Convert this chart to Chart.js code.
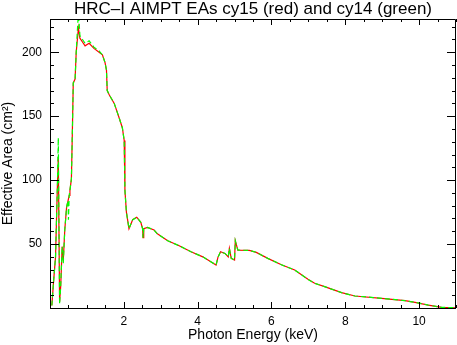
<!DOCTYPE html>
<html>
<head>
<meta charset="utf-8">
<script src="https://cdn.jsdelivr.net/npm/chart.js@4"></script>
<style>
  body { margin: 0; background: #fff; }
  canvas { display: block; }
</style>
</head>
<body>
<canvas id="eaChart" width="457" height="345"></canvas>
<script>
// Photon energy (keV) sample points
const energy = [0.05, 0.10, 0.15, 0.20, 0.225, 0.26, 0.29, 0.33, 0.36, 0.40, 0.45, 0.49, 0.50, 0.52, 0.54, 0.58,
    0.61, 0.63, 0.68, 0.71, 0.77, 0.81, 0.88, 0.95, 1.06, 1.19, 1.33, 1.42, 1.49, 1.53, 1.55, 1.60, 1.74,
    1.87, 1.96, 2.01, 2.03, 2.07, 2.14, 2.24, 2.35, 2.46, 2.51, 2.52, 2.54, 2.64, 2.82, 2.91, 3.19, 3.50,
    3.82, 4.14, 4.50, 4.55, 4.62, 4.74, 4.83, 4.86, 4.91, 5.00, 5.02, 5.09, 5.40, 5.59, 5.90, 6.27, 6.63,
    6.99, 7.17, 7.44, 7.90, 8.26, 8.98, 9.62, 9.89, 10.25, 10.61, 11.0];

// cy15 effective area (red), cm^2
const cy15 = [2, 22, 40, 95, 118, 5, 17, 48, 37, 61, 79, 84, 84, 88, 92, 101,
    144, 176, 179, 200, 219, 211, 208, 205, 207, 203, 200, 198, 192, 186, 170, 167, 160,
    149, 141, 131, 92, 75, 62, 69, 71, 67, 62, 55, 62, 63, 61, 58, 52.6, 48.7,
    44, 40, 33.6, 39.6, 44, 42.7, 40, 46.6, 38.8, 37.5, 52.6, 45.3, 45, 43.5, 38.8, 33.8, 29.7,
    22.4, 19.3, 16.7, 12, 9.4, 7.6, 5.7, 4.4, 2.3, 0.5, 0.2];

// cy14 effective area (green), cm^2
const cy14 = [2, 22, 40, 95, 133, 3, 17, 48, 35, 61, 79, 84, 69, 88, 92, 101,
    144, 176, 179, 200, 232, 213, 210, 207, 209, 204, 201, 198, 192, 186, 170, 167, 160,
    149, 141, 131, 92, 75, 62, 69, 71, 67, 62, 55, 62, 63, 61, 58, 52.6, 48.7,
    44, 40, 33.6, 39.6, 44, 42.7, 40, 46.6, 38.8, 37.5, 52.6, 45.3, 45, 43.5, 38.8, 33.8, 29.7,
    22.4, 19.3, 16.7, 12, 9.4, 7.6, 5.7, 4.4, 2.3, 0.5, 0.2];

// Axis ranges and tick spacing
const xRange = [0, 11];
const yRange = [0, 226];
const xMajor = 2, xMinor = 0.5;
const yMajor = 50, yMinor = 10;

const TITLE = 'HRC\u2013I AIMPT EAs cy15 (red) and cy14 (green)';
const FONT = "'Liberation Sans', Helvetica, Arial, sans-serif";

// Box frame with inward IDL-style tick marks on all four sides, plus title over the plot box
const frameTicks = {
    id: 'frameTicks',
    afterDraw(chart) {
        const ctx = chart.ctx;
        const a = chart.chartArea;
        const xs = chart.scales.x, ys = chart.scales.y;
        ctx.save();
        ctx.strokeStyle = '#000';
        ctx.lineWidth = 1;
        ctx.beginPath();
        ctx.rect(Math.round(a.left) + 0.5, Math.round(a.top) + 0.5,
            Math.round(a.right - a.left) - 1, Math.round(a.bottom - a.top));
        for (let v = xRange[0]; v <= xRange[1] + 1e-9; v += xMinor) {
            const px = Math.round(xs.getPixelForValue(v)) + 0.5;
            const len = Math.abs(v % xMajor) < 1e-9 ? 6 : 3;
            ctx.moveTo(px, a.bottom); ctx.lineTo(px, a.bottom - len);
            ctx.moveTo(px, a.top); ctx.lineTo(px, a.top + len);
        }
        for (let v = yRange[0]; v <= yRange[1] + 1e-9; v += yMinor) {
            const py = Math.round(ys.getPixelForValue(v)) + 0.5;
            const len = v % yMajor === 0 ? 9 : 4;
            ctx.moveTo(a.left, py); ctx.lineTo(a.left + len, py);
            ctx.moveTo(a.right, py); ctx.lineTo(a.right - len, py);
        }
        ctx.stroke();

        ctx.fillStyle = '#000';
        ctx.font = '17px ' + FONT;
        ctx.textAlign = 'center';
        ctx.textBaseline = 'middle';
        ctx.fillText(TITLE, (a.left + a.right) / 2, 9);
        ctx.restore();
    }
};

const pts = arr => energy.map((e, i) => ({ x: e, y: arr[i] }));

new Chart(document.getElementById('eaChart'), {
    type: 'line',
    data: {
        datasets: [{
            label: 'cy15',
            data: pts(cy15),
            borderColor: '#ff0000',
            borderWidth: 1.2,
            pointRadius: 0,
            tension: 0,
            order: 1
        }, {
            label: 'cy14',
            data: pts(cy14),
            borderColor: '#00ff00',
            borderWidth: 1.2,
            borderDash: [5, 3],
            pointRadius: 0,
            tension: 0,
            order: 0
        }]
    },
    options: {
        responsive: false,
        animation: false,
        devicePixelRatio: 1,
        layout: { padding: { left: 0, right: 1, top: 19, bottom: 0 } },
        plugins: {
            legend: { display: false },
            tooltip: { enabled: false },
            title: { display: false }
        },
        scales: {
            x: {
                type: 'linear',
                min: xRange[0],
                max: xRange[1],
                grid: { display: false, drawTicks: false },
                border: { display: false },
                ticks: {
                    stepSize: xMajor,
                    includeBounds: false,
                    autoSkip: false,
                    maxRotation: 0,
                    padding: 6,
                    color: '#000',
                    font: { family: FONT, size: 12 },
                    callback: v => (v !== 0 && v % xMajor === 0) ? String(v) : ''
                },
                title: {
                    display: true,
                    text: 'Photon Energy (keV)',
                    color: '#000',
                    font: { family: FONT, size: 14 },
                    padding: { top: 0, bottom: 1 }
                },
                afterFit: s => { s.height = 37; }
            },
            y: {
                min: yRange[0],
                max: yRange[1],
                grid: { display: false, drawTicks: false },
                border: { display: false },
                ticks: {
                    stepSize: yMajor,
                    includeBounds: false,
                    padding: 8,
                    color: '#000',
                    font: { family: FONT, size: 12 },
                    callback: v => (v !== 0 && v % yMajor === 0) ? String(v) : ''
                },
                title: {
                    display: true,
                    text: 'Effective Area (cm\u00b2)',
                    color: '#000',
                    font: { family: FONT, size: 14 },
                    padding: { top: 0, bottom: 0 }
                },
                afterFit: s => { s.width = 50; }
            }
        }
    },
    plugins: [frameTicks]
});
</script>
</body>
</html>
